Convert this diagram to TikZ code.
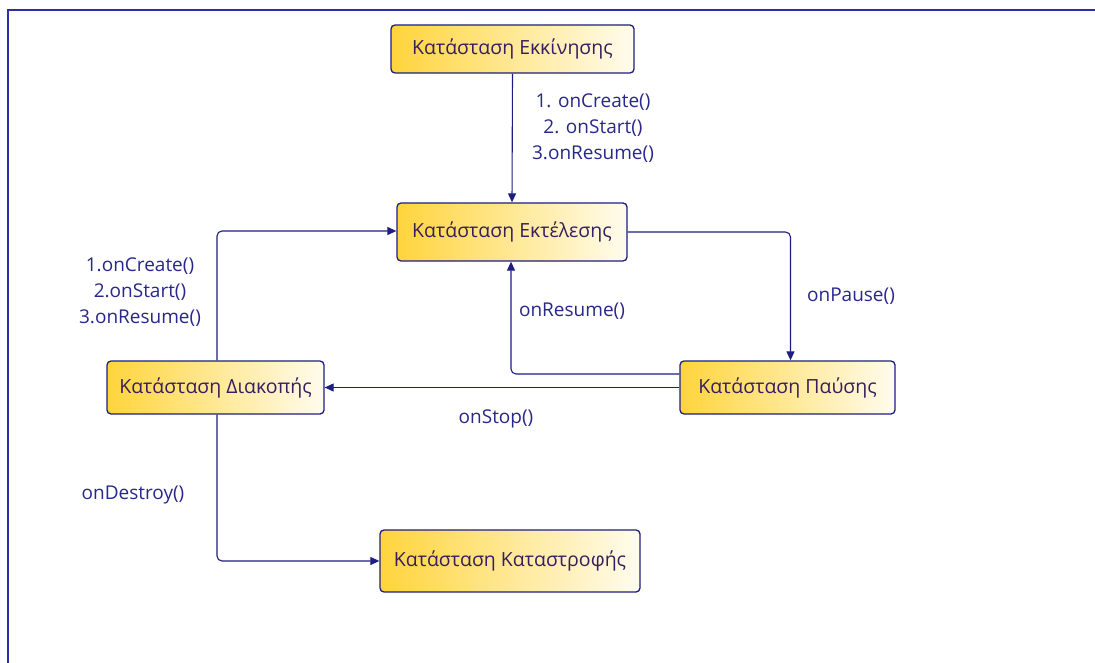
\documentclass[tikz,border=0pt]{standalone}
\usepackage{fontspec}
\setmainfont{Open Sans}
\usetikzlibrary{arrows.meta}
\definecolor{edge}{RGB}{30,30,130}
\definecolor{frame}{RGB}{45,45,165}
\definecolor{gold}{RGB}{255,212,60}
\definecolor{cream}{RGB}{255,252,238}
\definecolor{ink}{RGB}{55,30,95}
\definecolor{lbl}{RGB}{40,40,140}
\tikzset{
  state/.style={draw=edge, line width=1.3pt, rounded corners=4pt,
    left color=gold, right color=cream, text=ink,
    font=\fontsize{19.5}{22}\selectfont, inner sep=0pt},
  flow/.style={draw=edge, line width=1.1pt, rounded corners=5pt,
    -{Triangle[length=9pt,width=8pt]}},
  lab/.style={text=lbl, font=\fontsize{19}{26}\selectfont, align=center, inner sep=0pt}
}
\begin{document}
\begin{tikzpicture}[x=1pt,y=-1pt]
\useasboundingbox (0,0) rectangle (1095,663);
\fill[white] (0,0) rectangle (1095,663);
% outer frame (top and left edges)
\draw[frame, line width=2.2pt] (8,663) -- (8,10) -- (1095,10);

% states
\node[state, minimum width=243pt, minimum height=48pt] (start) at (512.5,49) {Κατάσταση Εκκίνησης};
\node[state, minimum width=230pt, minimum height=58pt] (run) at (512,232) {Κατάσταση Εκτέλεσης};
\node[state, minimum width=215pt, minimum height=53pt] (pause) at (787.5,387.5) {Κατάσταση Παύσης};
\node[state, minimum width=217pt, minimum height=53pt] (stop) at (215.5,387.5) {Κατάσταση Διακοπής};
\node[state, minimum width=260pt, minimum height=62pt] (destroy) at (510,561) {Κατάσταση Καταστροφής};

% transitions
\draw[flow] (start.south) -- (run.north);
\draw[flow] (run.east) -| ([xshift=3pt]pause.north);
\draw[flow] ([yshift=13.5pt]pause.west) -| ([xshift=-1pt]run.south);
\draw[flow] (pause.west) -- (stop.east);
\draw[flow] ([xshift=1.5pt]stop.north) |- ([yshift=1pt]run.west);
\draw[flow] ([xshift=1.5pt]stop.south) |- (destroy.west);

% transition labels
\node[lab] (l1) at (593,128) {1. onCreate()\\2. onStart()\\3.onResume()};
\node[lab] (l2) at (140,292) {1.onCreate()\\2.onStart()\\3.onResume()};
\node[lab] (l3) at (851,296) {onPause()};
\node[lab] (l4) at (572,311) {onResume()};
\node[lab] (l5) at (496,419) {onStop()};
\node[lab] (l6) at (133,495) {onDestroy()};
\end{tikzpicture}
\end{document}
